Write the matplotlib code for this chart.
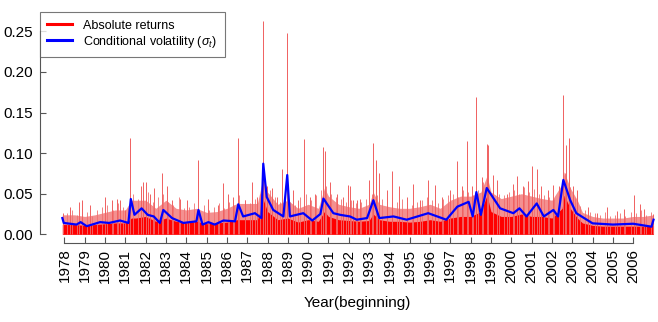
import matplotlib
matplotlib.use("Agg")
import matplotlib.pyplot as plt

plt.rcParams['font.family'] = ['Liberation Sans', 'DejaVu Sans']
plt.rcParams['mathtext.fontset'] = 'custom'
plt.rcParams['mathtext.rm'] = 'Liberation Sans'
plt.rcParams['mathtext.it'] = 'Liberation Sans:italic'

# body of the absolute returns (solid red top, pale red top), read by half year
body_years = [1977.9, 1978.5, 1979.0, 1979.5, 1980.0, 1980.5, 1981.0, 1981.3, 1981.5, 1982.0,
              1982.5, 1983.0, 1983.5, 1984.0, 1984.5, 1985.0, 1985.5, 1986.0, 1986.5, 1987.0,
              1987.5, 1987.8, 1988.0, 1988.5, 1989.0, 1989.5, 1990.0, 1990.5, 1990.8, 1991.0,
              1991.5, 1992.0, 1992.5, 1993.0, 1993.2, 1993.5, 1994.0, 1994.5, 1995.0, 1995.5,
              1996.0, 1996.5, 1997.0, 1997.5, 1998.0, 1998.5, 1998.8, 1999.0, 1999.5, 2000.0,
              2000.5, 2001.0, 2001.5, 2002.0, 2002.5, 2002.6, 2002.9, 2003.25, 2003.5, 2004.0,
              2004.5, 2005.0, 2005.5, 2006.0, 2006.5, 2007.0]
body_solid = [0.012, 0.012, 0.011, 0.012, 0.013, 0.014, 0.014, 0.020, 0.020, 0.022,
              0.016, 0.020, 0.016, 0.014, 0.016, 0.013, 0.014, 0.015, 0.018, 0.018,
              0.018, 0.042, 0.028, 0.018, 0.020, 0.015, 0.018, 0.016, 0.028, 0.022,
              0.018, 0.017, 0.016, 0.017, 0.025, 0.018, 0.016, 0.016, 0.015, 0.016,
              0.018, 0.016, 0.020, 0.022, 0.022, 0.028, 0.048, 0.028, 0.022, 0.022,
              0.025, 0.022, 0.022, 0.020, 0.032, 0.048, 0.032, 0.020, 0.014, 0.011,
              0.010, 0.010, 0.010, 0.010, 0.010, 0.011]
body_pale = [0.024, 0.024, 0.022, 0.024, 0.027, 0.030, 0.030, 0.042, 0.042, 0.042,
             0.032, 0.042, 0.032, 0.030, 0.032, 0.027, 0.028, 0.032, 0.038, 0.038,
             0.038, 0.072, 0.052, 0.037, 0.042, 0.032, 0.037, 0.032, 0.057, 0.047,
             0.037, 0.034, 0.032, 0.037, 0.052, 0.037, 0.034, 0.032, 0.032, 0.034,
             0.037, 0.032, 0.042, 0.047, 0.047, 0.052, 0.072, 0.052, 0.044, 0.047,
             0.050, 0.047, 0.044, 0.042, 0.062, 0.077, 0.057, 0.042, 0.027, 0.022,
             0.020, 0.020, 0.020, 0.022, 0.022, 0.024]

# individual large absolute returns
spike_years = [1977.95, 1978.28, 1978.74, 1978.86, 1979.26, 1980.0, 1980.33, 1980.58, 1980.74, 1980.99,
               1981.23, 1981.76, 1981.89, 1982.0, 1982.22, 1982.43, 1982.82, 1983.04, 1983.29, 1983.69,
               1984.02, 1984.6, 1985.09, 1985.58, 1985.83, 1986.07, 1986.29, 1986.56, 1986.89, 1987.22,
               1987.47, 1987.79, 1987.96, 1988.21, 1988.45, 1988.7, 1988.97, 1989.27, 1989.52, 1989.81,
               1990.09, 1990.34, 1990.75, 1990.83, 1991.08, 1991.41, 1991.73, 1991.98, 1992.06, 1992.22,
               1992.39, 1992.55, 1993.01, 1993.21, 1993.34, 1993.5, 1993.87, 1994.14, 1994.49, 1994.85,
               1995.15, 1995.5, 1995.91, 1996.24, 1996.57, 1996.98, 1997.34, 1997.56, 1997.83, 1998.05,
               1998.28, 1998.54, 1998.79, 1998.87, 1999.08, 1999.31, 1999.77, 2000.07, 2000.26, 2000.56,
               2000.84, 2001.03, 2001.25, 2001.46, 2001.82, 2002.07, 2002.36, 2002.56, 2002.69, 2002.82,
               2003.05, 2003.21, 2003.79, 2004.2, 2004.69, 2005.21, 2005.56, 2006.05, 2006.33, 2006.53,
               2006.99]
spike_values = [0.026, 0.034, 0.040, 0.042, 0.036, 0.046, 0.042, 0.044, 0.042, 0.030,
                0.118, 0.059, 0.065, 0.065, 0.050, 0.057, 0.076, 0.059, 0.042, 0.044,
                0.042, 0.0915, 0.044, 0.036, 0.063, 0.050, 0.046, 0.118, 0.042, 0.065,
                0.046, 0.263, 0.059, 0.057, 0.046, 0.081, 0.2475, 0.055, 0.042, 0.117,
                0.046, 0.050, 0.108, 0.102, 0.065, 0.050, 0.046, 0.061, 0.059, 0.042,
                0.042, 0.044, 0.067, 0.112, 0.092, 0.076, 0.055, 0.078, 0.060, 0.046,
                0.062, 0.042, 0.067, 0.061, 0.046, 0.055, 0.090, 0.059, 0.115, 0.059,
                0.169, 0.071, 0.111, 0.110, 0.073, 0.067, 0.050, 0.062, 0.072, 0.059,
                0.066, 0.0845, 0.080, 0.059, 0.055, 0.061, 0.059, 0.171, 0.110, 0.1186,
                0.059, 0.055, 0.034, 0.026, 0.034, 0.029, 0.031, 0.048, 0.037, 0.031,
                0.025]

# smaller returns that poke out of the body, four per year
small_years = [1978.12, 1978.37, 1978.62, 1978.87, 1979.12, 1979.37, 1979.62, 1979.87,
               1980.12, 1980.37, 1980.62, 1980.87, 1981.12, 1981.37, 1981.62, 1981.87,
               1982.12, 1982.37, 1982.62, 1982.87, 1983.12, 1983.37, 1983.62, 1983.87,
               1984.12, 1984.37, 1984.62, 1984.87, 1985.12, 1985.37, 1985.62, 1985.87,
               1986.12, 1986.37, 1986.62, 1986.87, 1987.12, 1987.37, 1987.62, 1987.87,
               1988.12, 1988.37, 1988.62, 1988.87, 1989.12, 1989.37, 1989.62, 1989.87,
               1990.12, 1990.37, 1990.62, 1990.87, 1991.12, 1991.37, 1991.62, 1991.87,
               1992.12, 1992.37, 1992.62, 1992.87, 1993.12, 1993.37, 1993.62, 1993.87,
               1994.12, 1994.37, 1994.62, 1994.87, 1995.12, 1995.37, 1995.62, 1995.87,
               1996.12, 1996.37, 1996.62, 1996.87, 1997.12, 1997.37, 1997.62, 1997.87,
               1998.12, 1998.37, 1998.62, 1998.87, 1999.12, 1999.37, 1999.62, 1999.87,
               2000.12, 2000.37, 2000.62, 2000.87, 2001.12, 2001.37, 2001.62, 2001.87,
               2002.12, 2002.37, 2002.62, 2002.87, 2003.12, 2003.37, 2003.62, 2003.87,
               2004.12, 2004.37, 2004.62, 2004.87, 2005.12, 2005.37, 2005.62, 2005.87,
               2006.12, 2006.37, 2006.62, 2006.87]
small_values = [0.026, 0.030, 0.024, 0.032, 0.028, 0.022, 0.030, 0.034,
                0.036, 0.030, 0.038, 0.034, 0.032, 0.050, 0.044, 0.048,
                0.052, 0.040, 0.046, 0.050, 0.040, 0.036, 0.046, 0.032,
                0.034, 0.038, 0.030, 0.036, 0.030, 0.034, 0.038, 0.032,
                0.040, 0.036, 0.048, 0.042, 0.038, 0.044, 0.050, 0.060,
                0.055, 0.046, 0.040, 0.045, 0.040, 0.036, 0.046, 0.050,
                0.042, 0.048, 0.055, 0.060, 0.050, 0.046, 0.044, 0.040,
                0.042, 0.038, 0.040, 0.044, 0.050, 0.048, 0.044, 0.046,
                0.046, 0.040, 0.044, 0.038, 0.036, 0.040, 0.042, 0.046,
                0.042, 0.038, 0.044, 0.048, 0.050, 0.046, 0.055, 0.052,
                0.048, 0.055, 0.065, 0.060, 0.055, 0.050, 0.048, 0.052,
                0.055, 0.050, 0.058, 0.052, 0.056, 0.050, 0.048, 0.046,
                0.044, 0.050, 0.075, 0.058, 0.045, 0.035, 0.030, 0.028,
                0.026, 0.024, 0.028, 0.022, 0.024, 0.026, 0.022, 0.028,
                0.026, 0.030, 0.024, 0.028]

# conditional volatility
vol_years = [1977.9, 1977.97, 1978.6, 1978.8, 1979.1, 1979.76, 1980.2, 1980.74, 1981.15, 1981.27,
             1981.45, 1981.8, 1982.1, 1982.4, 1982.7, 1982.87, 1983.3, 1983.86, 1984.5, 1984.6,
             1984.8, 1985.09, 1985.4, 1985.83, 1986.4, 1986.56, 1986.8, 1987.38, 1987.7, 1987.79,
             1987.96, 1988.28, 1988.78, 1988.97, 1989.1, 1989.76, 1990.2, 1990.6, 1990.75, 1991.24,
             1991.57, 1992.06, 1992.39, 1992.9, 1993.21, 1993.5, 1994.2, 1994.85, 1995.91, 1996.8,
             1997.34, 1997.9, 1998.1, 1998.28, 1998.5, 1998.79, 1999.45, 2000.1, 2000.4, 2000.75,
             2001.25, 2001.6, 2002.07, 2002.3, 2002.56, 2002.9, 2003.2, 2004.0, 2005.0, 2006.0,
             2006.9, 2007.0]
vol_values = [0.020, 0.014, 0.012, 0.015, 0.010, 0.015, 0.014, 0.017, 0.014, 0.0435,
              0.024, 0.032, 0.024, 0.022, 0.014, 0.030, 0.020, 0.014, 0.016, 0.030,
              0.012, 0.015, 0.012, 0.017, 0.016, 0.037, 0.022, 0.026, 0.020, 0.087,
              0.046, 0.030, 0.022, 0.073, 0.022, 0.026, 0.017, 0.025, 0.044, 0.026,
              0.024, 0.022, 0.018, 0.020, 0.042, 0.020, 0.022, 0.018, 0.026, 0.018,
              0.034, 0.040, 0.022, 0.052, 0.024, 0.057, 0.032, 0.026, 0.032, 0.022,
              0.038, 0.022, 0.030, 0.022, 0.067, 0.042, 0.026, 0.0135, 0.012, 0.013,
              0.0094, 0.018]

year_ticks = list(range(1978, 2007))
y_ticks = [0.00, 0.05, 0.10, 0.15, 0.20, 0.25]

fig = plt.figure(figsize=(6.58, 3.22), dpi=100)
ax = fig.add_axes([40 / 658, 79 / 322, 618 / 658, 232 / 322])

ax.fill_between(body_years, 0, body_pale, color='#f49090', lw=0)
ax.vlines(small_years, 0, small_values, color='#f07070', lw=0.6)
ax.fill_between(body_years, 0, body_solid, color='#ff0000', lw=0)
ax.vlines(spike_years, 0, spike_values, color='#f06060', lw=0.7)
ax.plot([], [], color='#ff0000', lw=2.2, label='Absolute returns')
ax.plot(vol_years, vol_values, color='#0000ff', lw=1.6, label=r'Conditional volatility ($\sigma_t$)')

ax.set_xlim(1976.80, 2007.22)
ax.set_ylim(-0.0107, 0.275)

for s in ['top', 'right']:
    ax.spines[s].set_visible(False)
for s in ['left', 'bottom']:
    ax.spines[s].set_color('#555555')
    ax.spines[s].set_linewidth(0.8)
ax.spines['bottom'].set_bounds(1978, 2006)
ax.spines['left'].set_bounds(0, 0.25)

ax.set_xticks(year_ticks)
ax.set_xticklabels([str(y) for y in year_ticks], rotation=90, fontsize=11)
ax.set_yticks(y_ticks)
ax.set_yticklabels(['%.2f' % v for v in y_ticks], fontsize=11)
ax.tick_params(axis='both', direction='in', length=4, width=0.8, color='#555555')
ax.tick_params(axis='x', pad=4)
ax.tick_params(axis='y', pad=5)

fig.text(357.5 / 658, 1 - 303 / 322, 'Year(beginning)', fontsize=11, ha='center', va='center')

leg = ax.legend(loc='upper left', bbox_to_anchor=(39.5 / 658, 1 - 12.3 / 322),
                bbox_transform=fig.transFigure, fontsize=9, frameon=True, fancybox=False,
                borderaxespad=0, handlelength=2.0, handletextpad=0.9, labelspacing=0.15,
                borderpad=0.6)
leg.get_frame().set_edgecolor('#555555')
leg.get_frame().set_linewidth(0.8)
for line in leg.get_lines():
    line.set_linewidth(2.2)

fig.savefig('out.png', dpi=100)
